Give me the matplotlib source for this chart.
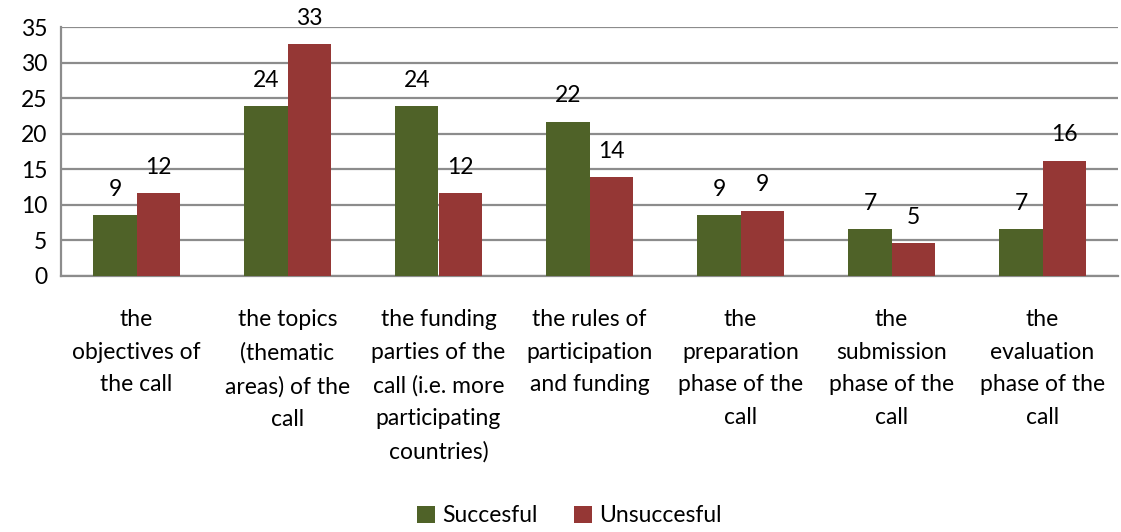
import matplotlib.pyplot as plt
import numpy as np

# categories and shares per group (%)
categories = [
    "the\nobjectives of\nthe call",
    "the topics\n(thematic\nareas) of the\ncall",
    "the funding\nparties of the\ncall (i.e. more\nparticipating\ncountries)",
    "the rules of\nparticipation\nand funding",
    "the\npreparation\nphase of the\ncall",
    "the\nsubmission\nphase of the\ncall",
    "the\nevaluation\nphase of the\ncall",
]
succesful = [8.6, 23.85, 23.85, 21.7, 8.6, 6.6, 6.6]
unsuccesful = [11.6, 32.6, 11.6, 13.9, 9.2, 4.6, 16.2]

green = '#4F6228'
red = '#953735'
grid_col = '#8C8C8C'

plt.rcParams['font.family'] = ['Lato', 'DejaVu Sans']

fig = plt.figure(figsize=(11.21, 5.32), dpi=100)
ax = fig.add_axes([61 / 1121, 256 / 532, 1057 / 1121, 249 / 532])

x = np.arange(len(categories))
w = 0.285
b1 = ax.bar(x - w / 2, succesful, w, color=green, label='Succesful', zorder=3)
b2 = ax.bar(x + w / 2, unsuccesful, w, color=red, label='Unsuccesful', zorder=3)

# value labels above the bars
for bars in (b1, b2):
    for bar in bars:
        h = bar.get_height()
        ax.annotate('%.0f' % h, (bar.get_x() + bar.get_width() / 2, h),
                    xytext=(0, 11), textcoords='offset points',
                    ha='center', va='bottom', fontsize=16.5, color='black')

ax.set_xlim(-0.5, len(categories) - 0.5)
ax.set_ylim(0, 35)
ax.set_yticks(np.arange(0, 36, 5))
ax.yaxis.grid(True, color=grid_col, linewidth=1.6, zorder=0)
ax.set_axisbelow(True)

ax.set_xticks(x)
ax.set_xticklabels(categories, fontsize=16.5, linespacing=1.68, va='top')
ax.tick_params(axis='x', length=0, pad=24)
ax.tick_params(axis='y', length=0, pad=10, labelsize=16.5)

for s in ['top', 'right']:
    ax.spines[s].set_visible(False)
for s in ['left', 'bottom']:
    ax.spines[s].set_color(grid_col)
    ax.spines[s].set_linewidth(1.6)

fig.legend(loc='center', bbox_to_anchor=(569 / 1121, 1 - 516 / 532), ncol=2,
           frameon=False, fontsize=16.5, handlelength=0.8, handleheight=0.8,
           handletextpad=0.3, columnspacing=1.6)

plt.savefig('out.png', dpi=100)
